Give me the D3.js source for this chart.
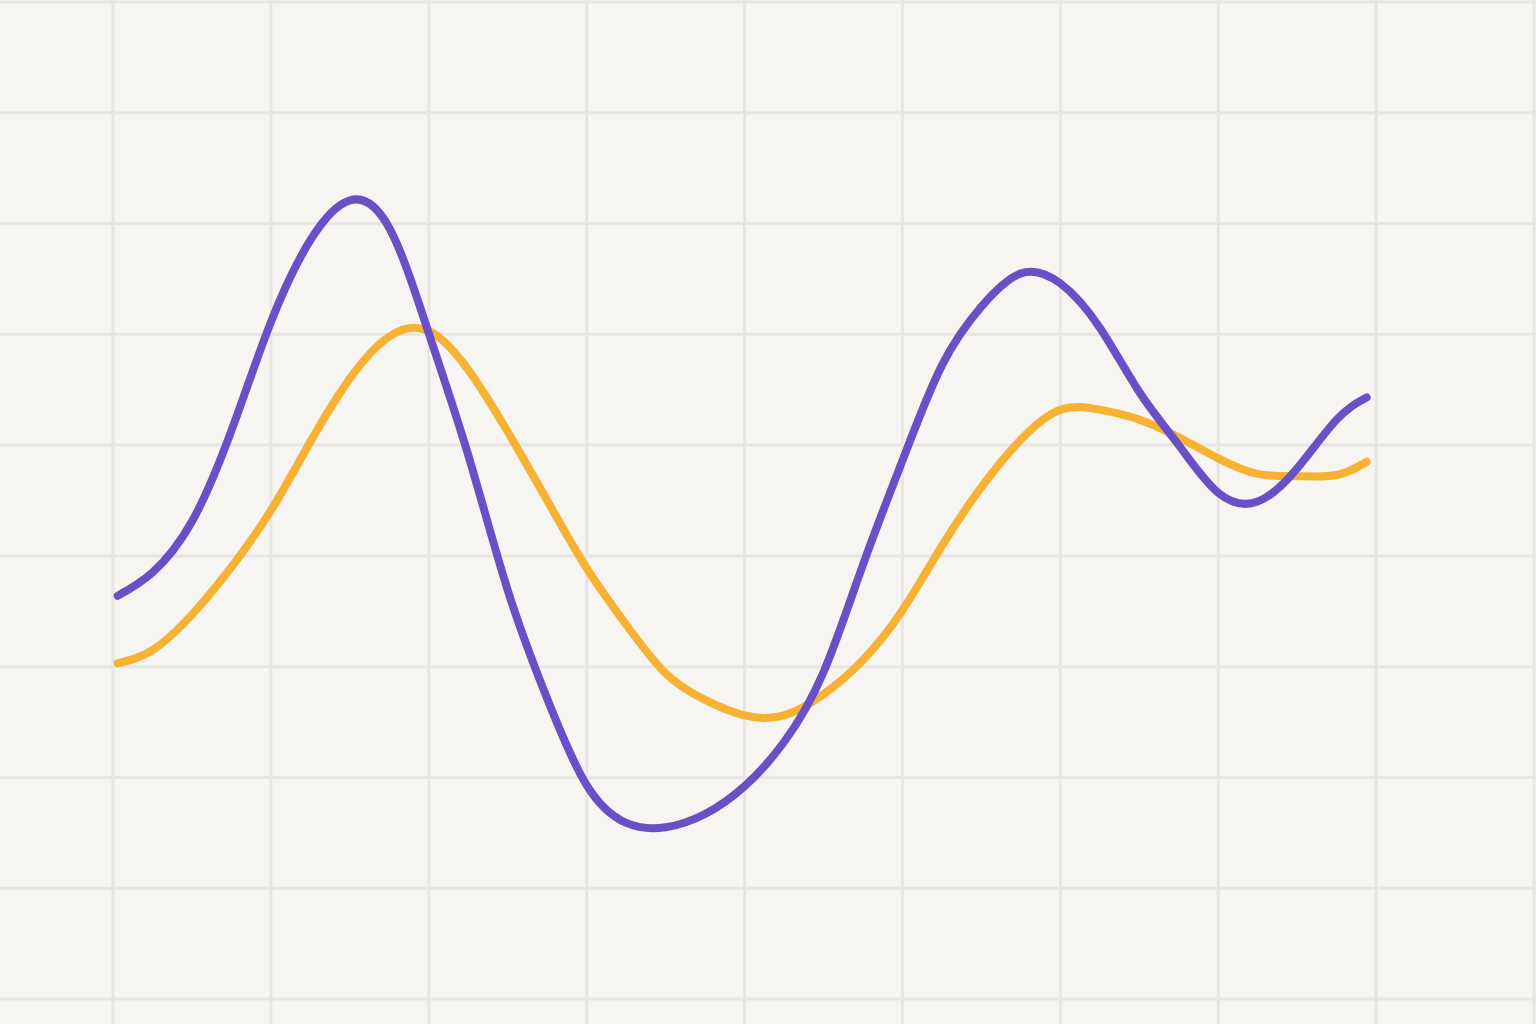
<!DOCTYPE html>
<html>
<head>
<meta charset="utf-8">
<script src="https://cdn.jsdelivr.net/npm/d3@7"></script>
<style>
  html, body { margin: 0; padding: 0; background: #f7f5f2; }
  svg { display: block; }
</style>
</head>
<body>
<div id="chart"></div>
<script>
// sample positions along the x axis (grid units)
const xs = [0.03, 0.25, 0.5, 0.75, 1, 1.25, 1.5, 1.75, 2, 2.25, 2.5, 2.75, 3, 3.25, 3.5, 3.75,
    4, 4.25, 4.5, 4.75, 5, 5.25, 5.5, 5.75, 6, 6.25, 6.5, 6.75, 7, 7.25, 7.5, 7.75, 7.94]

const purpleValues = [36.4, 38.5, 43.1, 51.3, 61.1, 68.5, 72.1, 69.6, 60.1, 49.1, 36.9, 27.1, 19.3, 15.9, 15.5, 16.7,
    19.2, 23.2, 29.5, 39.2, 48.6, 57.2, 62.5, 65.5, 64.6, 60.6, 54.8, 50.0, 45.7, 44.9, 47.9, 52.3, 54.3]

const orangeValues = [30.3, 31.5, 34.7, 39.0, 44.1, 50.3, 56.0, 59.8, 60.3, 56.8, 51.2, 45.0, 38.9, 33.8, 29.4, 27.0,
    25.6, 25.6, 27.5, 30.6, 35.1, 40.9, 46.2, 50.5, 53.2, 53.2, 52.3, 50.7, 48.8, 47.4, 47.2, 47.3, 48.5]

const xTicks = [0, 1, 2, 3, 4, 5, 6, 7, 8, 9]
const yTicks = [0, 10, 20, 30, 40, 50, 60, 70, 80, 90]

const width = 1536
const height = 1024

const svg = d3.select('#chart')
    .append('svg')
    .attr('width', width)
    .attr('height', height)

svg.append('rect')
    .attr('width', width)
    .attr('height', height)
    .attr('fill', '#f7f5f2')

const xScale = d3.scaleLinear()
    .domain([0, 9])
    .range([113, 1534])

const yScale = d3.scaleLinear()
    .domain([0, 90])
    .range([999, 2])

// grid
svg.append('g')
    .selectAll('line')
    .data(xTicks)
    .join('line')
    .attr('x1', d => xScale(d))
    .attr('x2', d => xScale(d))
    .attr('y1', 0)
    .attr('y2', height)
    .attr('stroke', '#e8e6e3')
    .attr('stroke-width', 3)

svg.append('g')
    .selectAll('line')
    .data(yTicks)
    .join('line')
    .attr('x1', 0)
    .attr('x2', width)
    .attr('y1', d => yScale(d))
    .attr('y2', d => yScale(d))
    .attr('stroke', '#e8e6e3')
    .attr('stroke-width', 3)

const line = d3.line()
    .x((d, i) => xScale(xs[i]))
    .y(d => yScale(d))
    .curve(d3.curveNatural)

svg.append('path')
    .datum(orangeValues)
    .attr('fill', 'none')
    .attr('stroke', '#f7b234')
    .attr('stroke-width', 8)
    .attr('stroke-linecap', 'round')
    .attr('stroke-linejoin', 'round')
    .attr('d', line)

svg.append('path')
    .datum(purpleValues)
    .attr('fill', 'none')
    .attr('stroke', '#6850c6')
    .attr('stroke-width', 8)
    .attr('stroke-linecap', 'round')
    .attr('stroke-linejoin', 'round')
    .attr('d', line)
</script>
</body>
</html>
